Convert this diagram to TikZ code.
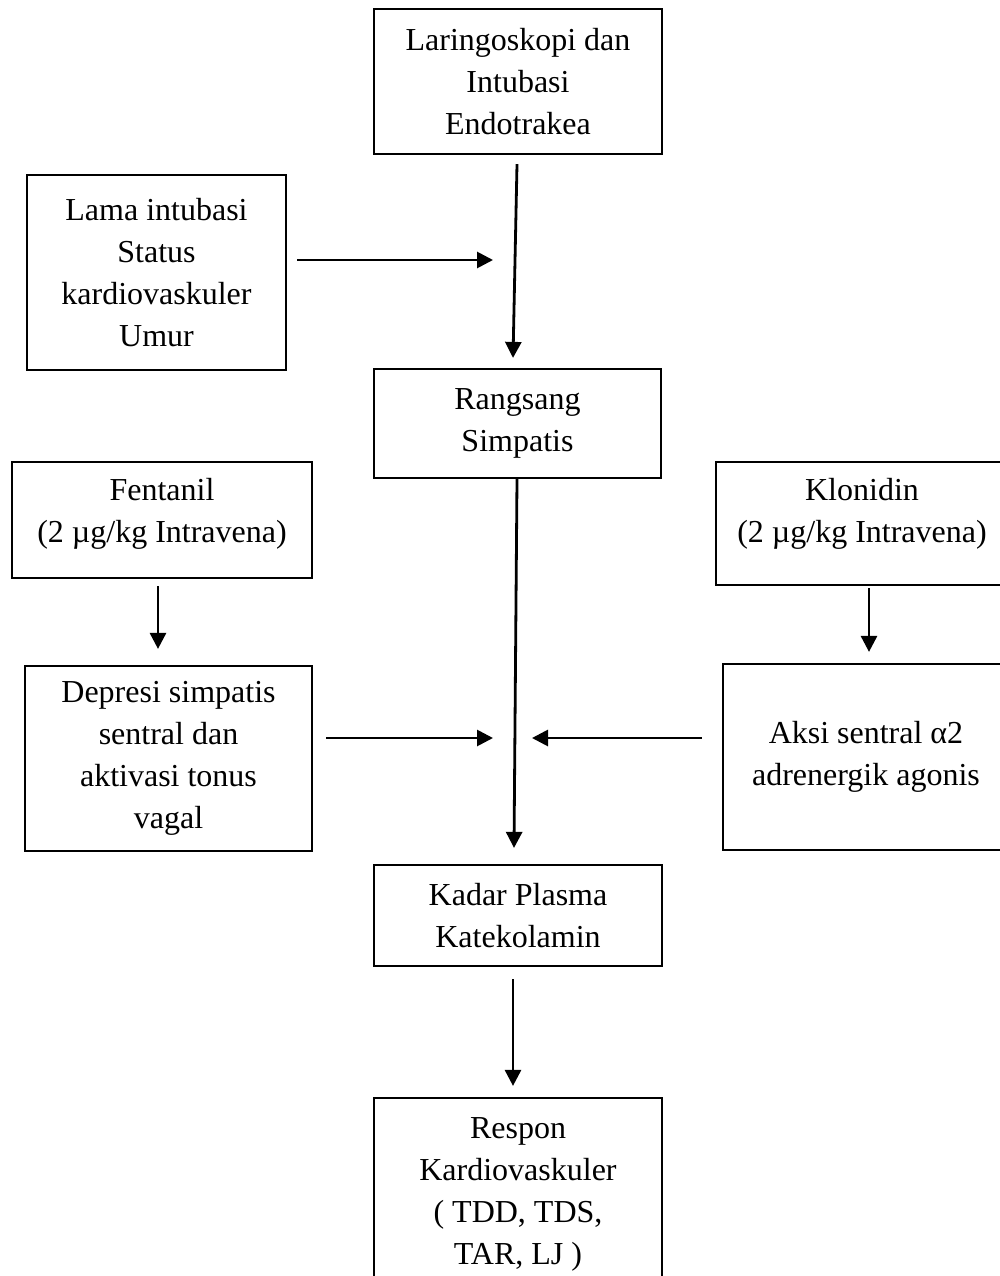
\documentclass[tikz,border=0pt]{standalone}
\usepackage{fontspec}
\setmainfont{Liberation Serif}
\usetikzlibrary{arrows.meta,calc}
\tikzset{
  box/.style={draw=black, line width=2.2pt, rectangle, inner sep=0pt, align=center,
    font=\fontsize{32}{42}\selectfont},
  arr/.style={line width=2.8pt, -{Triangle[length=16pt,width=16pt]}}
}
\begin{document}
\begin{tikzpicture}[x=1pt,y=-1pt]
\useasboundingbox (0,0) rectangle (1000,1276);
% boxes
\node[box, minimum width=288pt, minimum height=145pt] (lar) at (518,81.5)
  {Laringoskopi dan\\Intubasi\\Endotrakea};
\node[box, minimum width=259pt, minimum height=195pt] (lama) at (156.5,272.5)
  {Lama intubasi\\Status\\kardiovaskuler\\Umur};
\node[box, minimum width=287pt, minimum height=109pt] (rang) at (517.5,423.5)
  {Rangsang\\Simpatis};
\node[box, minimum width=300pt, minimum height=116pt, text depth=19pt] (fent) at (162,520)
  {Fentanil\\(2 µg/kg Intravena)};
\node[box, minimum width=292pt, minimum height=123pt, text depth=27pt] (klon) at (862,523.5)
  {Klonidin\\(2 µg/kg Intravena)};
\node[box, minimum width=287pt, minimum height=185pt] (depr) at (168.5,758.5)
  {Depresi simpatis\\sentral dan\\aktivasi tonus\\vagal};
\node[box, minimum width=286pt, minimum height=186pt] (aksi) at (866,757)
  {Aksi sentral α2\\adrenergik agonis};
\node[box, minimum width=288pt, minimum height=101pt] (kadar) at (518,915.5)
  {Kadar Plasma\\Katekolamin};
\node[box, minimum width=288pt, minimum height=192pt] (resp) at (518,1194)
  {Respon\\Kardiovaskuler\\( TDD, TDS,\\TAR, LJ )};
% free ends
\coordinate (m1) at (493,260);
\coordinate (m2) at (493,738);
\coordinate (m3) at (532,738);
% connectors
\draw[arr] ($(lar.south)+(-1,9)$) -- ($(rang.north)+(-4.5,-10)$);
\draw[arr] ($(lama.east)+(10,-12.5)$) -- (m1);
\draw[arr] ($(rang.south)+(-0.5,0)$) -- ($(kadar.north)+(-4,-16)$);
\draw[arr] ($(fent.south)+(-4,7)$) -- ($(depr.north)+(-10.5,-16)$);
\draw[arr] ($(klon.south)+(7,2)$) -- ($(aksi.north)+(3,-11)$);
\draw[arr] ($(depr.east)+(13,-20.5)$) -- (m2);
\draw[arr] ($(aksi.west)+(-20,-19)$) -- (m3);
\draw[arr] ($(kadar.south)+(-5,12)$) -- ($(resp.north)+(-5,-11)$);
\end{tikzpicture}
\end{document}
